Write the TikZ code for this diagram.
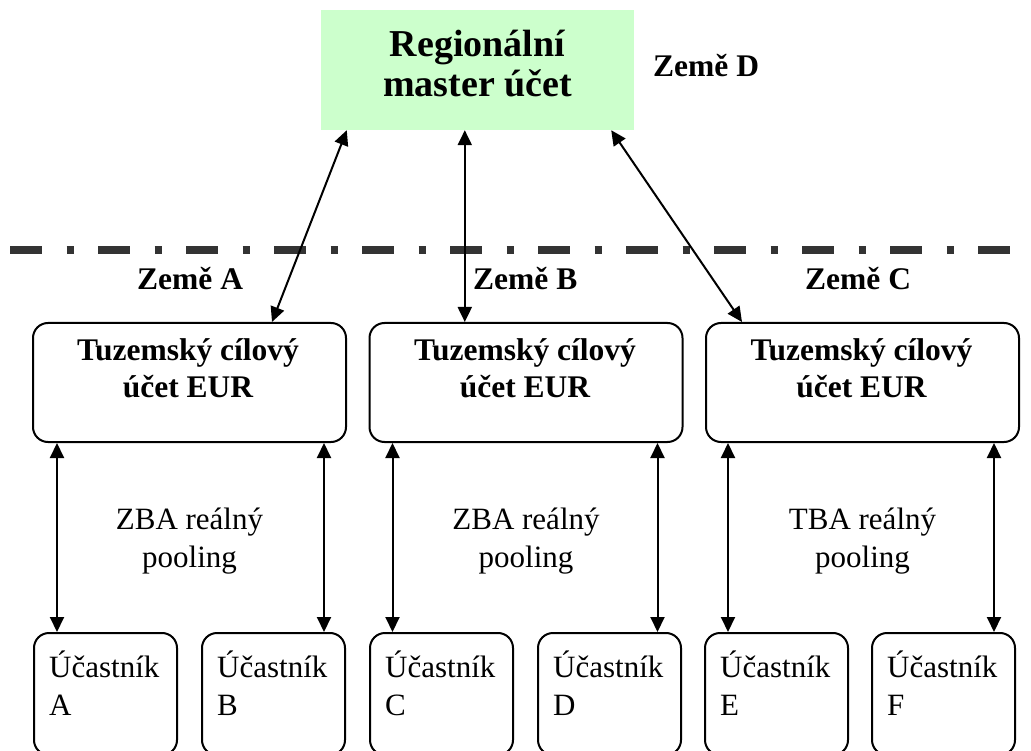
\documentclass[tikz,border=0pt]{standalone}
\usepackage{fontspec}
\setmainfont{Liberation Serif}
\usetikzlibrary{arrows.meta}
\definecolor{mastergreen}{HTML}{CCFFCC}
\definecolor{borderline}{HTML}{333333}

\begin{document}
\begin{tikzpicture}[x=1pt,y=-1pt,
  roundbox/.style={draw=black, line width=2pt, rounded corners=15pt, inner sep=0pt},
  accbox/.style={roundbox, minimum width=313pt, minimum height=119pt},
  partbox/.style={roundbox, minimum width=143pt, minimum height=122pt},
  masterbox/.style={fill=mastergreen, inner sep=0pt, minimum width=313pt, minimum height=120pt},
  boldtext/.style={font=\fontsize{31.5}{37}\selectfont\bfseries, inner sep=0pt},
  bigtext/.style={font=\fontsize{38}{40}\selectfont\bfseries, inner sep=0pt, align=center},
  plaintext/.style={font=\fontsize{31}{38}\selectfont, inner sep=0pt},
  biarrow/.style={line width=2pt, {Triangle[length=15pt,width=14pt]}-{Triangle[length=15pt,width=14pt]}},
  frontier/.style={line width=8pt, draw=borderline, dash pattern=on 32pt off 24.5pt on 7pt off 24.5pt}
]
\useasboundingbox (0,0) rectangle (1031,751);
\clip (0,0) rectangle (1031,751);

% regional master account (text nodes are placed by the baseline of their last line)
\node[masterbox] (m) at (477.5,70) {};
\node[bigtext, anchor=base] (mt) at (477.5,97) {Regionální\\master účet};
\node[boldtext, anchor=base west] (zd) at (653,77) {Země D};

% country border
\coordinate (bl) at (10,250);
\coordinate (br) at (1010,250);
\draw[frontier] (bl) -- (br);

% country labels
\node[boldtext, anchor=base west] (za) at (137,290) {Země A};
\node[boldtext, anchor=base west] (zb) at (473,290) {Země B};
\node[boldtext, anchor=base west] (zc) at (805,290) {Země C};

% domestic target accounts
\node[accbox] (tA) at (189.5,382.5) {};
\node[accbox] (tB) at (526,382.5) {};
\node[accbox] (tC) at (862.5,382.5) {};
\node[boldtext, anchor=base, align=center] (tAt) at (188,397) {Tuzemský cílový\\účet EUR};
\node[boldtext, anchor=base, align=center] (tBt) at (525,397) {Tuzemský cílový\\účet EUR};
\node[boldtext, anchor=base, align=center] (tCt) at (861.5,397) {Tuzemský cílový\\účet EUR};

% participants
\node[partbox] (pA) at (105.5,694) {};
\node[partbox] (pB) at (273.5,694) {};
\node[partbox] (pC) at (441.5,694) {};
\node[partbox] (pD) at (609.5,694) {};
\node[partbox] (pE) at (776.5,694) {};
\node[partbox] (pF) at (943.5,694) {};
\node[plaintext, anchor=base west, align=left] (pAt) at (49,715) {Účastník\\A};
\node[plaintext, anchor=base west, align=left] (pBt) at (217,715) {Účastník\\B};
\node[plaintext, anchor=base west, align=left] (pCt) at (385,715) {Účastník\\C};
\node[plaintext, anchor=base west, align=left] (pDt) at (553,715) {Účastník\\D};
\node[plaintext, anchor=base west, align=left] (pEt) at (720,715) {Účastník\\E};
\node[plaintext, anchor=base west, align=left] (pFt) at (887,715) {Účastník\\F};

% pooling labels
\node[plaintext, anchor=base, align=center] (plA) at (189.5,567) {ZBA reálný\\pooling};
\node[plaintext, anchor=base, align=center] (plB) at (526,567) {ZBA reálný\\pooling};
\node[plaintext, anchor=base, align=center] (plC) at (862.5,567) {TBA reálný\\pooling};

% master to domestic accounts
\draw[biarrow] ([xshift=26pt]m.south west) -- ([xshift=240pt]tA.north west);
\draw[biarrow] ([xshift=144pt]m.south west) -- ([xshift=144pt]m.south west |- tB.north);
\draw[biarrow] ([xshift=-23pt]m.south east) -- ([xshift=37pt]tC.north west);

% domestic accounts to participants
\draw[biarrow] ([xshift=25pt]tA.south west) -- ([xshift=25pt]tA.south west |- pA.north);
\draw[biarrow] ([xshift=-23pt]tA.south east) -- ([xshift=-23pt]tA.south east |- pB.north);
\draw[biarrow] ([xshift=24pt]tB.south west) -- ([xshift=24pt]tB.south west |- pC.north);
\draw[biarrow] ([xshift=-26pt]tB.south east) -- ([xshift=-26pt]tB.south east |- pD.north);
\draw[biarrow] ([xshift=23pt]tC.south west) -- ([xshift=23pt]tC.south west |- pE.north);
\draw[biarrow] ([xshift=-26pt]tC.south east) -- ([xshift=-26pt]tC.south east |- pF.north);
\end{tikzpicture}
\end{document}
